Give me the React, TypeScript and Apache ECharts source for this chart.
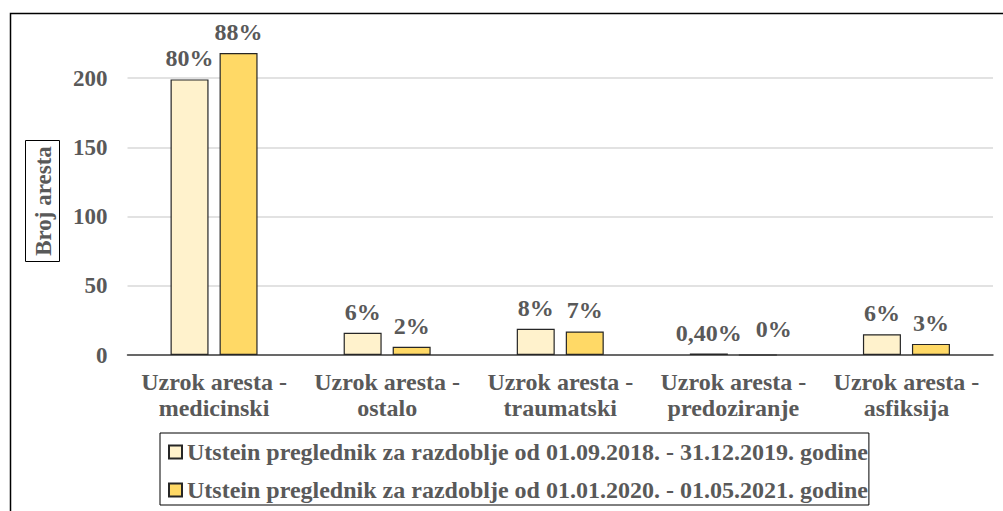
import React, { useEffect, useRef } from "react";
import * as echarts from "echarts";

const categories = [
  "Uzrok aresta -\nmedicinski",
  "Uzrok aresta -\nostalo",
  "Uzrok aresta -\ntraumatski",
  "Uzrok aresta -\npredoziranje",
  "Uzrok aresta -\nasfiksija",
];
const seriesNames = [
  "Utstein preglednik za razdoblje od 01.09.2018. - 31.12.2019. godine",
  "Utstein preglednik za razdoblje od 01.01.2020. - 01.05.2021. godine",
];
const values2018 = [199, 16, 19, 1, 15];
const values2020 = [218, 6, 17, 0, 8];
const labels2018 = ["80%", "6%", "8%", "0,40%", "6%"];
const labels2020 = ["88%", "2%", "7%", "0%", "3%"];
const yTicks = [0, 50, 100, 150, 200];

const FONT = "'Liberation Serif', 'Times New Roman', serif";
const TEXT = "#595959";

export default function App() {
  const ref = useRef<HTMLDivElement>(null);
  useEffect(() => {
    const chart = echarts.init(ref.current!, null, { renderer: "svg" });
    const labelStyle = {
      show: true,
      position: "top" as const,
      distance: 9,
      fontFamily: FONT,
      fontWeight: "bold" as const,
      fontSize: 24,
      color: TEXT,
    };
    chart.setOption({
      animation: false,
      backgroundColor: "#fff",
      grid: { left: 127.5, right: 10, top: 8.75, bottom: 156 },
      xAxis: {
        type: "category",
        data: categories,
        axisTick: { show: false },
        axisLine: { lineStyle: { color: "#404040", width: 1.5 } },
        axisLabel: {
          fontFamily: FONT,
          fontWeight: "bold",
          fontSize: 24,
          color: TEXT,
          lineHeight: 26,
          margin: 14,
          interval: 0,
        },
      },
      yAxis: {
        type: "value",
        min: 0,
        max: 250,
        interval: 50,
        axisLine: { show: false },
        axisTick: { show: false },
        splitLine: { lineStyle: { color: "#D9D9D9", width: 1.5 }, showMaxLine: false },
        axisLabel: {
          showMaxLabel: false,
          margin: 20,
          fontFamily: FONT,
          fontWeight: "bold",
          fontSize: 23,
          color: TEXT,
          formatter: (v: number) => (yTicks.includes(v) ? String(v) : ""),
        },
      },
      legend: {
        orient: "vertical",
        left: 160,
        top: 433,
        padding: [7, 1, 3, 8],
        borderColor: "#000",
        borderWidth: 1,
        itemWidth: 13,
        itemHeight: 13,
        itemGap: 14,
        itemTextGap: 5,
        icon: "rect",
        textStyle: {
          fontFamily: FONT,
          fontWeight: "bold",
          fontSize: 24,
          lineHeight: 24,
          color: TEXT,
        },
        data: seriesNames,
      },
      graphic: [
        {
          type: "rect",
          shape: { x: 10.5, y: 13.5, width: 1010, height: 520 },
          style: { fill: "none", stroke: "#000", lineWidth: 1.5 },
          silent: true,
        },
        {
          type: "rect",
          shape: { x: 25.5, y: 140.5, width: 34, height: 121 },
          style: { fill: "#fff", stroke: "#000", lineWidth: 1 },
        },
        {
          type: "text",
          x: 43,
          y: 201,
          rotation: Math.PI / 2,
          style: {
            text: "Broj aresta",
            fontFamily: FONT,
            fontWeight: "bold",
            fontSize: 23,
            fill: TEXT,
            align: "center",
            verticalAlign: "middle",
          },
        },
      ],
      series: [
        {
          name: seriesNames[0],
          type: "bar",
          barWidth: 38,
          barGap: "29%",
          data: values2018,
          itemStyle: { color: "#FFF2CC", borderColor: "#262626", borderWidth: 1.2 },
          label: { ...labelStyle, formatter: (p: any) => labels2018[p.dataIndex] },
        },
        {
          name: seriesNames[1],
          type: "bar",
          barWidth: 38,
          data: values2020.map((v) =>
            v === 0 ? { value: v, label: { offset: [16, -4] } } : v
          ),
          itemStyle: { color: "#FFD966", borderColor: "#262626", borderWidth: 1.2 },
          label: { ...labelStyle, formatter: (p: any) => labels2020[p.dataIndex] },
        },
      ],
    });
    return () => chart.dispose();
  }, []);
  return (
    <div
      ref={ref}
      style={{ position: "absolute", left: 0, top: 0, width: 1003, height: 511 }}
    />
  );
}
